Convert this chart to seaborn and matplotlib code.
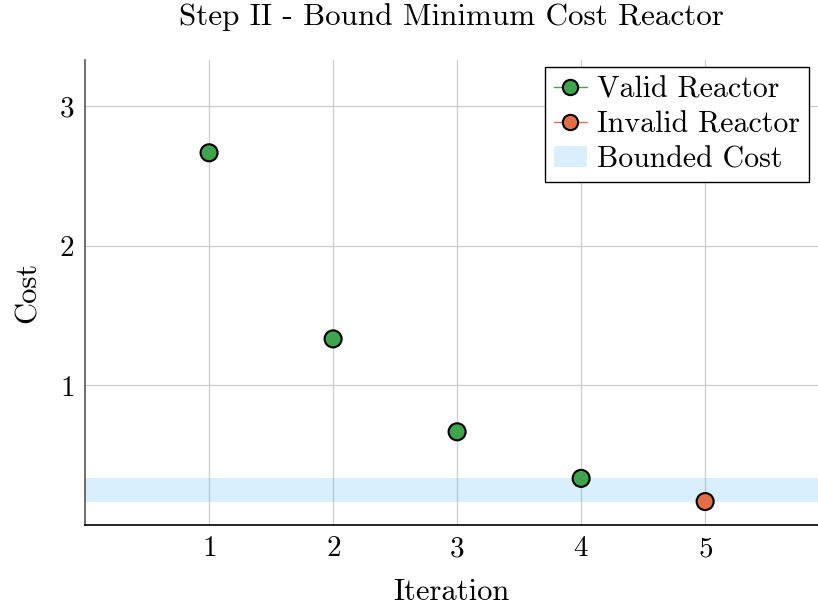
import pandas as pd
import seaborn as sns
import matplotlib.pyplot as plt
from matplotlib.lines import Line2D
from matplotlib.patches import Patch

# values
iteration = [1, 2, 3, 4, 5]
cost = [2.667, 1.333, 0.667, 0.333, 0.167]
status = ['Valid Reactor', 'Valid Reactor', 'Valid Reactor', 'Valid Reactor', 'Invalid Reactor']
bound_low = 0.167
bound_high = 0.333

colors = {'Valid Reactor': '#3EA44E', 'Invalid Reactor': '#E36F47'}
band_color = '#009AFA'

df = pd.DataFrame({'Iteration': iteration, 'Cost': cost, 'status': status})

sns.set_style('white')
plt.rcParams['font.family'] = ['cmr10', 'DejaVu Serif']
plt.rcParams['axes.formatter.use_mathtext'] = True
plt.rcParams['mathtext.fontset'] = 'cm'
plt.rcParams['text.color'] = 'black'
plt.rcParams['axes.labelcolor'] = 'black'
plt.rcParams['xtick.labelcolor'] = 'black'
plt.rcParams['ytick.labelcolor'] = 'black'

fig = plt.figure(figsize=(8.18, 6.11), dpi=100)
ax = fig.add_axes([0.104, 0.141, 0.896, 0.761])

ax.axhspan(bound_low, bound_high, color=band_color, alpha=0.15, lw=0, zorder=1)
sns.scatterplot(data=df, x='Iteration', y='Cost', hue='status', palette=colors,
                s=150, edgecolor='black', linewidth=1.5, ax=ax, legend=False, zorder=3)

ax.set_xlim(0, 5.91)
ax.set_ylim(0, 3.333)
ax.set_xticks([1, 2, 3, 4, 5])
ax.set_yticks([1, 2, 3])
ax.grid(True, color='#cccccc', lw=0.9, zorder=0)
ax.set_axisbelow(True)
ax.tick_params(axis='both', direction='in', length=5, width=1, color='#888888',
               labelsize=21, pad=8)

for s in ['top', 'right']:
    ax.spines[s].set_visible(False)
ax.spines['bottom'].set_color('black')
ax.spines['left'].set_color('#555555')
ax.spines['bottom'].set_linewidth(1.2)
ax.spines['left'].set_linewidth(1.2)

ax.set_xlabel('Iteration', fontsize=22, labelpad=12)
ax.set_ylabel('Cost', fontsize=22, labelpad=12)
ax.set_title('Step II - Bound Minimum Cost Reactor', fontsize=22.4, pad=25)

handles = [
    Line2D([0], [0], color=colors['Valid Reactor'], lw=1, marker='o', markersize=11,
           markerfacecolor=colors['Valid Reactor'], markeredgecolor='black', markeredgewidth=1.5),
    Line2D([0], [0], color=colors['Invalid Reactor'], lw=1, marker='o', markersize=11,
           markerfacecolor=colors['Invalid Reactor'], markeredgecolor='black', markeredgewidth=1.5),
    Patch(facecolor=band_color, alpha=0.15, edgecolor='none'),
]
leg = ax.legend(handles, ['Valid Reactor', 'Invalid Reactor', 'Bounded Cost'],
                loc='upper right', bbox_to_anchor=(0.988, 0.985), fontsize=21.5, frameon=True,
                fancybox=False, edgecolor='black', framealpha=1, handlelength=1.1,
                handletextpad=0.35, borderpad=0.3, labelspacing=0.25, borderaxespad=0)
leg.get_frame().set_linewidth(1.0)

plt.savefig('out.png', dpi=100)
